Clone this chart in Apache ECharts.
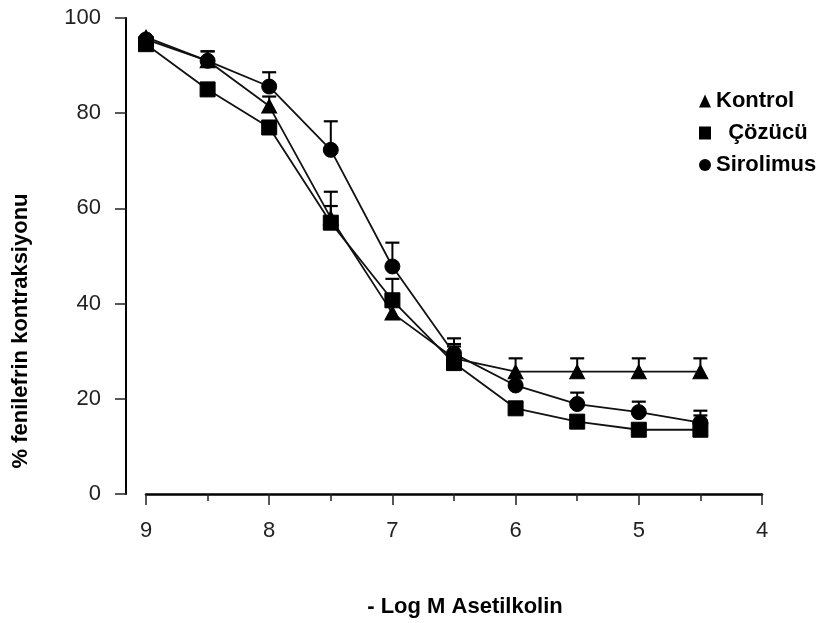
<!DOCTYPE html>
<html><head><meta charset="utf-8">
<script src="https://cdn.jsdelivr.net/npm/echarts@6/dist/echarts.min.js"></script>
<style>html,body{margin:0;padding:0;background:#fff}#c{width:829px;height:623px}</style>
</head><body><div id="c"></div>
<script>
var xVals = [9, 8.5, 8, 7.5, 7, 6.5, 6, 5.5, 5, 4.5];
var kontrol = [96, 91, 81.5, 58, 38, 28.5, 25.7, 25.7, 25.7, 25.7];
var kontrolErr = [0, 2, 2, 2.5, 2.5, 3, 2.8, 2.8, 2.8, 2.8];
var cozucu = [94.5, 85, 77, 57, 40.7, 27.5, 18, 15.2, 13.5, 13.5];
var cozucuErr = [0, 0, 0, 6.5, 4.5, 3.5, 0, 0, 0, 3];
var sirolimus = [95.5, 91, 85.6, 72.3, 47.8, 29.5, 22.8, 18.9, 17.2, 15];
var sirolimusErr = [0, 2, 3, 6, 5, 3.2, 0, 2.4, 2.2, 2.5];
var yTicks = [0, 20, 40, 60, 80, 100];
var xTicks = [9, 8, 7, 6, 5, 4];
var names = ['Kontrol', 'Çözücü', 'Sirolimus'];

function pts(v){ return xVals.map(function(x,i){ return [x, v[i]]; }); }
function errData(v,e){ return xVals.map(function(x,i){ return [x, v[i], v[i]+e[i], e[i]]; }).filter(function(d){return d[3]>0;}); }
function errSeries(v,e){
  return {
    type:'custom', z:1, silent:true,
    data: errData(v,e),
    renderItem:function(params, api){
      var p0 = api.coord([api.value(0), api.value(1)]);
      var p1 = api.coord([api.value(0), api.value(2)]);
      var w = 7;
      return {type:'group', children:[
        {type:'line', shape:{x1:p0[0],y1:p0[1],x2:p1[0],y2:p1[1]}, style:{stroke:'#000',lineWidth:2}},
        {type:'line', shape:{x1:p1[0]-w,y1:p1[1],x2:p1[0]+w,y2:p1[1]}, style:{stroke:'#000',lineWidth:2.2}}
      ]};
    }
  };
}
function lineSeries(name, v, symbol, size){
  return {name:name, type:'line', data:pts(v), symbol:symbol, symbolSize:size, z:3,
    lineStyle:{color:'#111', width:1.8}, itemStyle:{color:'#000', borderColor:'#000'},
    showSymbol:true, animation:false};
}
var titleFont = {fontFamily:'Liberation Sans, Arial', fontWeight:'bold', fontSize:22, color:'#000'};
var chart = echarts.init(document.getElementById('c'));
chart.setOption({
  animation:false,
  grid:{left:146, right:67, top:18, bottom:126},
  legend:{
    orient:'vertical', left:699, top:90, padding:0, itemGap:10,
    itemWidth:12, itemHeight:13,
    data:[{name:'Kontrol', icon:'triangle'},{name:'Çözücü', icon:'rect'},{name:'Sirolimus', icon:'circle'}],
    formatter:function(n){ return n==='Çözücü' ? '  '+n : n; },
    textStyle:{fontFamily:'Liberation Sans, Arial', fontWeight:'bold', fontSize:22, color:'#000'},
    itemStyle:{color:'#000'}
  },
  xAxis:{
    type:'value', min:4, max:9, interval:1, inverse:true,
    name:'- Log M Asetilkolin', nameLocation:'middle', nameGap:102,
    nameTextStyle:Object.assign({padding:[0,0,0,22]}, titleFont),
    axisLine:{show:true, lineStyle:{color:'#000', width:2.5}},
    axisTick:{show:true, length:11, lineStyle:{color:'#222', width:1.5}},
    minorTick:{show:true, splitNumber:2, length:7, lineStyle:{color:'#222', width:1.5}},
    axisLabel:{fontFamily:'Liberation Sans, Arial', fontSize:22, color:'#222', margin:26},
    splitLine:{show:false}
  },
  yAxis:{
    type:'value', min:0, max:100, interval:20, offset:20,
    name:'% fenilefrin kontraksiyonu', nameLocation:'middle', nameGap:94,
    nameTextStyle:Object.assign({padding:[0,150,0,0]}, titleFont),
    axisLine:{show:true, lineStyle:{color:'#000', width:2}},
    axisTick:{show:true, length:11, lineStyle:{color:'#222', width:1.5}},
    axisLabel:{fontFamily:'Liberation Sans, Arial', fontSize:22, color:'#222', margin:25},
    splitLine:{show:false}
  },
  series:[
    errSeries(kontrol, kontrolErr),
    errSeries(cozucu, cozucuErr),
    errSeries(sirolimus, sirolimusErr),
    lineSeries('Kontrol', kontrol, 'triangle', [15,14]),
    lineSeries('Sirolimus', sirolimus, 'circle', 15),
    lineSeries('Çözücü', cozucu, 'rect', 15)
  ]
});
</script></body></html>
